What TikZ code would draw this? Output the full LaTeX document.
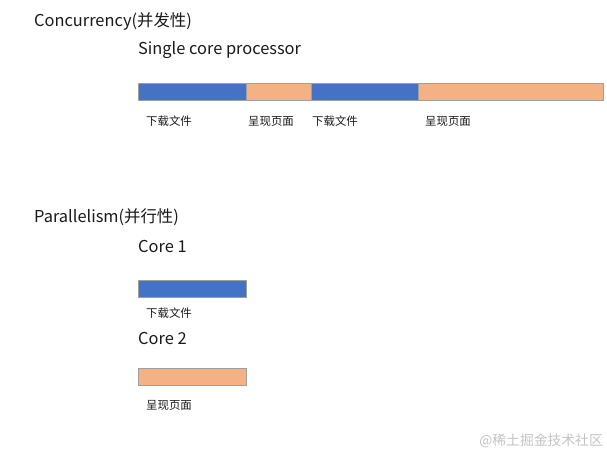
\documentclass[tikz,border=0pt]{standalone}
\usepackage{fontspec}
\setmainfont{Noto Sans CJK SC}
\definecolor{barblue}{HTML}{4472C4}
\definecolor{barorange}{HTML}{F4B183}
\definecolor{txt}{HTML}{1A1A1A}
\definecolor{wm}{HTML}{C4C4C4}
\begin{document}
\begin{tikzpicture}[x=1pt,y=-1pt,
  bar/.style={draw=gray!75, line width=0.6pt, minimum height=17pt, inner sep=0pt, anchor=north west},
  bluebar/.style={bar, fill=barblue},
  orangebar/.style={bar, fill=barorange},
  title/.style={anchor=west, inner sep=0pt, text=txt, font=\fontsize{16.4}{18}\selectfont},
  lab/.style={anchor=west, inner sep=0pt, text=txt, font=\fontsize{11.4}{13}\selectfont}]
\useasboundingbox (0,0) rectangle (607,454);
\fill[white] (0,0) rectangle (607,454);
% Concurrency
\node[title] (conc) at (34,22) {Concurrency(并发性)};
\node[title] (single) at (138,50) {Single core processor};
\node[bluebar, minimum width=108pt] (s1) at (138,83) {};
\node[orangebar, minimum width=65pt] (s2) at (246,83) {};
\node[bluebar, minimum width=107pt] (s3) at (311,83) {};
\node[orangebar, minimum width=185pt] (s4) at (418,83) {};
\node[lab] (l1) at (146,121) {下载文件};
\node[lab] (l2) at (248,121) {呈现页面};
\node[lab] (l3) at (312,121) {下载文件};
\node[lab] (l4) at (425,121) {呈现页面};
% Parallelism
\node[title] (par) at (34,217) {Parallelism(并行性)};
\node[title] (core1) at (138,246) {Core 1};
\node[bluebar, minimum width=108pt] (p1) at (138,280) {};
\node[lab] (pl1) at (146,313) {下载文件};
\node[title] (core2) at (138,338) {Core 2};
\node[orangebar, minimum width=108pt] (p2) at (138,368) {};
\node[lab] (pl2) at (146,405) {呈现页面};
% watermark
\node[anchor=east, inner sep=0pt, text=wm, font=\fontsize{13.8}{15}\selectfont] (wmk) at (603,441) {@稀土掘金技术社区};
\end{tikzpicture}
\end{document}
